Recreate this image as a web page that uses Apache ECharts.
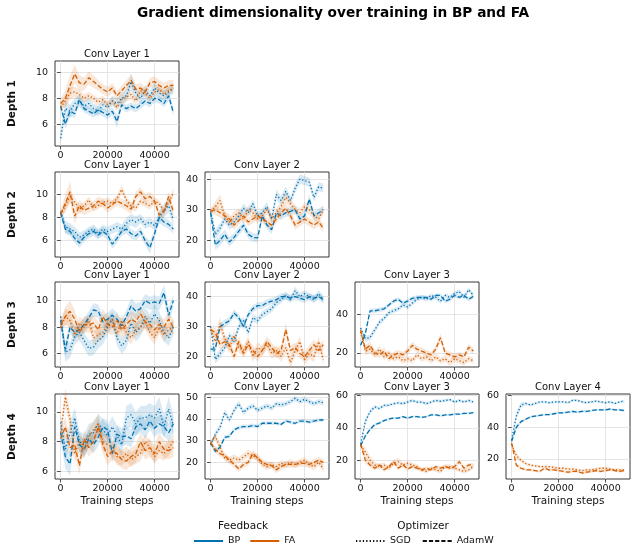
<!DOCTYPE html>
<html>
<head>
<meta charset="utf-8">
<script src="https://cdn.jsdelivr.net/npm/echarts@6/dist/echarts.min.js"></script>
<style>
  html, body { margin: 0; padding: 0; background: #fff; }
  #chart { width: 637px; height: 551px; }
</style>
</head>
<body>
<div id="chart"></div>
<script>
// training steps shared by every panel
const STEPS = [0, 2000, 4000, 6000, 8000, 10000, 12000, 14000, 16000, 18000, 20000, 22000, 24000,
  26000, 28000, 30000, 32000, 34000, 36000, 38000, 40000, 42000, 44000, 46000, 48000];

const X_TICKS = [0, 20000, 40000];
const TICKS_A = [6, 8, 10];
const TICKS_B = [20, 30, 40];
const TICKS_C = [20, 40];
const TICKS_D = [20, 30, 40, 50];
const TICKS_E = [20, 40, 60];

const FEEDBACK = ['BP', 'FA'];
const OPTIMIZERS = ['SGD', 'AdamW'];

// Depth 1 / Conv Layer 1
const D1L1_BP_SGD = [4.9,7.2,7.0,7.6,7.8,7.4,7.6,7.2,7.0,7.5,7.3,7.8,7.6,8.0,8.2,9.3,8.4,8.0,8.6,8.2,8.8,8.4,8.2,8.5,8.8];
const D1L1_BP_SGD_SD = [0.5,0.6,0.5,0.4,0.5,0.4,0.4,0.4,0.4,0.4,0.4,0.4,0.4,0.4,0.5,0.6,0.5,0.4,0.4,0.4,0.4,0.4,0.4,0.4,0.4];
const D1L1_BP_ADAM = [7.4,6.0,7.0,6.8,7.9,7.2,7.0,6.8,7.1,6.9,6.7,7.0,6.2,7.5,7.2,7.4,7.2,7.5,7.8,7.6,8.0,7.9,7.6,8.2,6.9];
const D1L1_BP_ADAM_SD = [0.3,0.4,0.4,0.3,0.3,0.3,0.3,0.3,0.3,0.3,0.3,0.3,0.5,0.3,0.3,0.3,0.3,0.3,0.3,0.3,0.3,0.3,0.3,0.4,0.3];
const D1L1_FA_SGD = [7.3,7.8,8.4,8.5,8.3,8.0,8.2,8.0,7.7,7.9,7.5,7.8,7.3,7.9,8.1,8.3,7.8,8.6,8.4,8.0,8.5,8.7,8.3,8.6,8.7];
const D1L1_FA_SGD_SD = [0.3,0.5,0.5,0.4,0.4,0.3,0.3,0.3,0.3,0.3,0.3,0.3,0.3,0.3,0.3,0.4,0.3,0.3,0.3,0.3,0.3,0.3,0.3,0.3,0.3];
const D1L1_FA_ADAM = [7.6,8.0,9.0,9.9,9.2,9.1,9.6,9.3,9.0,8.7,8.5,8.8,8.2,8.6,9.0,9.4,8.7,8.8,8.5,9.2,9.3,9.0,8.8,9.0,9.0];
const D1L1_FA_ADAM_SD = [0.4,0.6,0.8,0.7,0.6,0.5,0.5,0.5,0.4,0.4,0.4,0.4,0.4,0.4,0.4,0.5,0.4,0.4,0.4,0.4,0.4,0.4,0.4,0.4,0.4];

// Depth 2 / Conv Layer 1
const D2L1_BP_SGD = [8.5,7.2,7.0,6.8,6.3,6.5,6.8,7.0,6.6,7.0,6.8,7.0,7.2,7.0,7.5,7.8,7.6,7.9,7.4,7.6,7.3,8.0,8.6,9.0,7.8];
const D2L1_BP_SGD_SD = [0.3,0.5,0.5,0.4,0.4,0.4,0.4,0.4,0.4,0.4,0.4,0.4,0.4,0.4,0.5,0.5,0.5,0.4,0.4,0.4,0.4,0.5,0.6,0.6,0.5];
const D2L1_BP_ADAM = [8.4,7.0,6.8,6.2,5.8,6.3,6.6,6.8,6.5,6.8,6.5,5.7,6.2,6.8,7.0,6.6,6.4,6.8,6.0,5.4,6.6,8.0,7.6,7.4,7.0];
const D2L1_BP_ADAM_SD = [0.3,0.4,0.4,0.4,0.4,0.4,0.4,0.4,0.4,0.4,0.4,0.4,0.4,0.4,0.4,0.4,0.4,0.4,0.4,0.5,0.4,0.5,0.4,0.4,0.4];
const D2L1_FA_SGD = [8.2,9.0,9.8,9.3,8.7,9.0,9.5,8.8,9.0,9.3,9.4,9.2,9.6,10.4,9.5,9.0,8.8,9.4,9.2,9.0,9.4,9.2,8.5,9.3,10.1];
const D2L1_FA_SGD_SD = [0.3,0.4,0.5,0.4,0.4,0.3,0.3,0.3,0.3,0.3,0.3,0.3,0.3,0.4,0.3,0.3,0.3,0.3,0.3,0.3,0.3,0.3,0.3,0.3,0.4];
const D2L1_FA_ADAM = [8.3,9.2,10.2,8.1,9.0,8.6,8.8,9.0,9.4,9.2,8.8,9.1,9.4,9.2,9.0,8.7,9.8,10.2,9.6,9.8,9.4,8.2,8.5,9.8,8.5];
const D2L1_FA_ADAM_SD = [0.3,0.8,0.9,0.6,0.5,0.4,0.4,0.4,0.4,0.4,0.4,0.4,0.4,0.4,0.4,0.4,0.4,0.4,0.4,0.4,0.4,0.4,0.4,0.4,0.4];

// Depth 2 / Conv Layer 2
const D2L2_BP_SGD = [29.5,22,24,27,25,26,28,30.5,29,32,28,29,31,27,35,33,36,33,37,40,39.5,39,34,37.5,37];
const D2L2_BP_SGD_SD = [0.8,1.6,1.6,1.4,1.5,1.4,1.4,1.5,1.4,1.5,1.4,1.4,1.5,1.5,1.6,1.5,1.6,1.5,1.5,1.6,1.5,1.5,1.4,1.5,1.5];
const D2L2_BP_ADAM = [29,18.5,20,22,19.5,21,23,25,22,21,20.8,28,25,23.5,29,28,29,29.5,30,27,28,33.5,28,29,30];
const D2L2_BP_ADAM_SD = [0.8,1.5,1.8,1.6,1.5,1.4,1.4,1.4,1.4,1.4,1.4,1.4,1.4,1.4,1.4,1.4,1.4,1.4,1.4,1.4,1.4,1.5,1.4,1.4,1.4];
const D2L2_FA_SGD = [29.5,31,33,28,26,28,29,27,30,29,27,28,30,27,29,31,34,32,30,29,31,30,28,27,30];
const D2L2_FA_SGD_SD = [0.8,1.8,2.0,1.6,1.5,1.5,1.5,1.5,1.5,1.5,1.5,1.5,1.5,1.5,1.5,1.6,1.8,1.6,1.5,1.5,1.5,1.5,1.5,1.5,1.5];
const D2L2_FA_ADAM = [29.5,30,29,28,27,25,26.5,28,26,27,28,27,26,25,27,29,30.5,28,25,26,27,26,25,26,24];
const D2L2_FA_ADAM_SD = [0.8,1.6,1.6,1.5,1.5,1.5,1.4,1.4,1.4,1.4,1.4,1.4,1.4,1.4,1.4,1.5,1.6,1.5,1.4,1.4,1.4,1.4,1.4,1.4,1.4];

// Depth 3 / Conv Layer 1
const D3L1_BP_SGD = [8.8,6.1,6.3,7.3,7.6,7.0,6.4,6.5,7.0,7.3,8.0,8.6,7.2,6.6,7.0,8.3,7.6,8.0,8.8,8.3,9.0,8.5,7.6,7.2,8.0];
const D3L1_BP_SGD_SD = [0.4,0.7,0.6,0.6,0.6,0.6,0.6,0.6,0.6,0.6,0.6,0.6,0.6,0.6,0.6,0.7,0.7,0.7,0.7,0.7,0.7,0.7,0.7,0.6,0.6];
const D3L1_BP_ADAM = [8.5,6.3,8.0,7.6,7.8,8.2,8.7,9.3,9.2,8.4,8.6,8.9,8.6,8.1,8.8,9.6,9.2,9.4,10.0,9.8,9.9,9.8,10.6,8.9,10.0];
const D3L1_BP_ADAM_SD = [0.4,0.6,0.5,0.5,0.5,0.5,0.5,0.5,0.5,0.5,0.5,0.5,0.5,0.5,0.5,0.6,0.6,0.5,0.5,0.5,0.5,0.5,0.6,0.6,0.5];
const D3L1_FA_SGD = [8.0,8.8,8.5,7.4,8.3,8.0,8.5,7.2,7.4,7.6,8.2,8.6,7.5,8.5,7.6,7.2,7.8,8.0,8.4,7.6,7.2,8.0,7.4,7.8,8.0];
const D3L1_FA_SGD_SD = [0.4,0.6,0.6,0.5,0.5,0.5,0.5,0.5,0.5,0.5,0.5,0.5,0.5,0.5,0.5,0.5,0.5,0.5,0.5,0.5,0.5,0.5,0.5,0.5,0.5];
const D3L1_FA_ADAM = [8.2,8.8,9.2,8.6,7.6,8.2,8.2,8.3,7.8,8.8,8.2,8.0,8.5,7.8,8.2,8.6,8.4,9.0,8.4,8.2,7.8,8.2,8.0,8.6,8.0];
const D3L1_FA_ADAM_SD = [0.4,0.7,0.8,0.7,0.6,0.6,0.6,0.6,0.6,0.6,0.6,0.6,0.6,0.6,0.6,0.6,0.6,0.6,0.6,0.6,0.6,0.6,0.6,0.6,0.6];

// Depth 3 / Conv Layer 2
const D3L2_BP_SGD = [30,19,21,23,27,25,30,32,28,33,32,34,35,36,38,39,40.5,39,42,40,41,40,39,41,39];
const D3L2_BP_SGD_SD = [0.8,1.4,1.4,1.3,1.3,1.3,1.3,1.3,1.3,1.3,1.2,1.2,1.2,1.2,1.2,1.2,1.2,1.2,1.3,1.2,1.2,1.2,1.2,1.2,1.2];
const D3L2_BP_ADAM = [22.5,22.5,30,31,32,34.5,33,30,34,36,37,37,38,38.5,39,40,40,39.5,40,39.5,39,40,39.5,40,39];
const D3L2_BP_ADAM_SD = [0.8,1.4,1.3,1.3,1.2,1.2,1.2,1.2,1.2,1.2,1.1,1.1,1.1,1.1,1.1,1.1,1.1,1.1,1.1,1.1,1.1,1.1,1.1,1.1,1.1];
const D3L2_FA_SGD = [29,25,31,26,23,27,23,22,25,20,23,22,24,21,22,20,23,18,22,25,19,21,20,25,19];
const D3L2_FA_SGD_SD = [0.8,2.0,2.2,1.8,1.8,1.8,1.8,1.8,1.8,1.8,1.8,1.8,1.8,1.8,1.8,1.8,2.0,1.8,1.8,1.8,1.8,1.8,1.8,1.8,1.8];
const D3L2_FA_ADAM = [29,28,24,25,24,20,25,21,24,22,20,22,25,23,21,22,29,22,23,21,20,22,24,22,24];
const D3L2_FA_ADAM_SD = [0.8,1.8,1.8,1.7,1.7,1.7,1.7,1.7,1.7,1.7,1.7,1.7,1.7,1.7,1.7,1.8,2.2,1.7,1.7,1.7,1.7,1.7,1.7,1.7,1.7];

// Depth 3 / Conv Layer 3
const D3L3_BP_SGD = [33,27.5,28,32,36,38,41,42,43,45,44,46,48,49,48,50,49,47,50,49,51,52,49,53,50];
const D3L3_BP_SGD_SD = [1.0,1.6,1.5,1.4,1.4,1.3,1.3,1.3,1.2,1.2,1.2,1.2,1.2,1.2,1.2,1.2,1.2,1.2,1.2,1.2,1.2,1.2,1.2,1.2,1.2];
const D3L3_BP_ADAM = [24,30,42,42,42.5,43,45,47,48,46,47,48.5,49,49,49,48,50,50,47,48,50,49,50,48,49.5];
const D3L3_BP_ADAM_SD = [1.0,1.5,1.3,1.2,1.2,1.2,1.1,1.1,1.1,1.1,1.1,1.1,1.1,1.1,1.1,1.1,1.1,1.1,1.1,1.1,1.1,1.1,1.1,1.1,1.1];
const D3L3_FA_SGD = [31,21,22,19,22,18,20,17,18,16,17,16,19,17,18,16,18,16,17,15,17,16,15,17,16];
const D3L3_FA_SGD_SD = [1.0,2.2,2.0,1.8,1.8,1.7,1.7,1.6,1.6,1.6,1.6,1.6,1.6,1.6,1.6,1.6,1.6,1.6,1.6,1.6,1.6,1.6,1.6,1.6,1.6];
const D3L3_FA_ADAM = [32,22,24,20,19,21,17,19,20,19,21,24,22,21,20,19,22,28,20,19,18,19,18,23,21];
const D3L3_FA_ADAM_SD = [1.0,2.2,2.0,1.8,1.8,1.8,1.7,1.7,1.7,1.7,1.8,1.9,1.8,1.7,1.7,1.7,1.8,2.2,1.7,1.7,1.7,1.7,1.7,1.8,1.7];

// Depth 4 / Conv Layer 1
const D4L1_BP_SGD = [9.3,7.5,8.6,9.6,8.0,7.8,8.5,8.6,9.2,8.8,8.4,9.0,8.4,7.8,9.6,9.8,9.2,9.6,9.6,9.8,9.6,10.2,9.0,10.2,9.1];
const D4L1_BP_SGD_SD = [0.5,0.8,0.7,0.7,0.7,0.7,0.7,0.7,0.7,0.7,0.7,0.7,0.7,0.7,0.8,0.8,0.8,0.8,0.8,0.8,0.8,0.8,0.8,0.8,0.7];
const D4L1_BP_ADAM = [8.6,7.0,6.5,9.0,7.8,7.5,8.2,7.8,8.3,9.0,8.8,7.2,8.5,8.3,8.4,8.2,9.0,9.2,8.8,9.4,8.9,9.2,9.0,8.6,9.2];
const D4L1_BP_ADAM_SD = [0.5,0.8,0.8,0.7,0.6,0.6,0.6,0.6,0.6,0.6,0.6,0.6,0.6,0.6,0.6,0.6,0.6,0.6,0.6,0.6,0.6,0.6,0.6,0.6,0.6];
const D4L1_FA_SGD = [8.6,11.0,9.5,7.2,8.0,7.5,8.3,8.8,9.2,8.0,7.8,7.6,7.0,6.9,7.2,6.8,7.0,7.2,8.0,7.6,7.0,7.4,7.2,7.6,8.0];
const D4L1_FA_SGD_SD = [0.4,0.6,0.6,0.6,0.6,0.6,0.6,0.6,0.6,0.6,0.6,0.6,0.6,0.5,0.5,0.5,0.5,0.5,0.5,0.5,0.5,0.5,0.5,0.5,0.5];
const D4L1_FA_ADAM = [8.2,9.0,7.6,7.8,6.4,8.2,7.6,8.0,9.0,7.8,7.0,7.4,7.2,6.8,6.7,7.0,7.2,8.0,7.4,7.6,7.2,8.0,7.5,7.4,7.6];
const D4L1_FA_ADAM_SD = [0.4,0.7,0.6,0.6,0.6,0.6,0.6,0.6,0.6,0.6,0.6,0.6,0.6,0.6,0.6,0.6,0.6,0.6,0.6,0.6,0.6,0.6,0.6,0.6,0.6];

// Depth 4 / Conv Layer 2
const D4L2_BP_SGD = [28,33,36,43,39.5,44,47,43,45,46,44,45,46,45,47,46.5,47,48,49.5,48,49,48,47,48,47.5];
const D4L2_BP_SGD_SD = [0.8,1.4,1.4,1.4,1.3,1.4,1.4,1.3,1.2,1.2,1.2,1.2,1.2,1.2,1.2,1.2,1.2,1.2,1.2,1.2,1.2,1.2,1.2,1.2,1.2];
const D4L2_BP_ADAM = [29,25,27,31.5,32,35,36,36.5,36.5,37,36.5,38,38,38,38,37.5,39,38.5,38,39,39,38.5,39,39.5,39.5];
const D4L2_BP_ADAM_SD = [0.8,1.0,1.0,1.0,0.9,0.9,0.9,0.9,0.9,0.9,0.8,0.8,0.8,0.8,0.8,0.8,0.8,0.8,0.8,0.8,0.8,0.8,0.8,0.8,0.8];
const D4L2_FA_SGD = [29,32,27,22,21,22,21,22.5,24,23,22,19,18,19,18,19.5,19,20,19,20,21,19,18,20,17];
const D4L2_FA_SGD_SD = [0.8,1.8,1.8,1.6,1.6,1.6,1.6,1.6,1.8,1.6,1.6,1.5,1.5,1.5,1.5,1.5,1.5,1.5,1.5,1.5,1.5,1.5,1.5,1.5,1.5];
const D4L2_FA_ADAM = [29,26,24,23,21,19,17,19,20,24,22,20,19,18.5,16.5,18,19,19,19,19.5,19.5,19,20,21,20];
const D4L2_FA_ADAM_SD = [0.8,1.6,1.6,1.5,1.5,1.5,1.5,1.5,1.5,1.7,1.6,1.5,1.5,1.5,1.5,1.5,1.5,1.5,1.5,1.5,1.5,1.5,1.5,1.5,1.5];

// Depth 4 / Conv Layer 3
const D4L3_BP_SGD = [30,44,50,53,52,54,54,55,55.5,55,56,57,56,56,55,56,57,56.5,57,57.5,56,57,56,57,56];
const D4L3_BP_SGD_SD = [1.0,2.0,1.5,1.2,1.0,1.0,0.9,0.9,0.9,0.9,0.9,0.9,0.9,0.9,0.9,0.9,0.9,0.9,0.9,0.9,0.9,0.9,0.9,0.9,0.9];
const D4L3_BP_ADAM = [29,35,39,42,43,44.5,45.5,46,46,47,46,47,47,46.5,47,48,48,47.5,48,48,48.5,48.5,49,49,49.5];
const D4L3_BP_ADAM_SD = [1.0,1.2,1.0,0.8,0.8,0.7,0.7,0.7,0.7,0.7,0.7,0.7,0.7,0.7,0.7,0.7,0.7,0.7,0.7,0.7,0.7,0.7,0.7,0.7,0.7];
const D4L3_FA_SGD = [29,25,20,17,16,17,15,18,19,17,18,17,16,14,13,15,14,13,16,16,15,14,13,14,16];
const D4L3_FA_SGD_SD = [1.0,3.0,2.6,2.0,1.6,1.6,1.5,1.8,2.4,1.6,1.5,1.4,1.4,1.3,1.3,1.3,1.3,1.3,1.4,1.4,1.3,1.3,1.3,1.3,1.4];
const D4L3_FA_ADAM = [30,20,17,15,17,14,16,19,15,17,14.5,16,15,14,15,14,16,15,16,15,16,19,15,17,17];
const D4L3_FA_ADAM_SD = [1.0,2.2,1.6,1.4,1.4,1.3,1.3,1.5,1.3,1.3,1.2,1.2,1.2,1.2,1.2,1.2,1.2,1.2,1.2,1.2,1.2,1.5,1.2,1.2,1.2];

// Depth 4 / Conv Layer 4
const D4L4_BP_SGD = [32,47,54,55,54,55,56,56,55.5,56,56,56,55.5,57,57,56,55.5,56,56.5,56,55.5,56,55,56,56.5];
const D4L4_BP_SGD_SD = [1.0,2.4,1.6,1.0,0.9,0.8,0.8,0.8,0.8,0.8,0.8,0.8,0.8,0.8,0.8,0.8,0.8,0.8,0.8,0.8,0.8,0.8,0.8,0.8,0.8];
const D4L4_BP_ADAM = [31,40,43.5,45,46.5,47,47.5,48,48,48.5,49,49,49.5,50,49.5,50,50,50.5,51,51,51,51.5,51,51,50.5];
const D4L4_BP_ADAM_SD = [1.0,1.4,1.0,0.8,0.7,0.7,0.7,0.7,0.7,0.7,0.7,0.7,0.7,0.7,0.7,0.7,0.7,0.7,0.7,0.7,0.7,0.7,0.7,0.7,0.7];
const D4L4_FA_SGD = [29,22,19,17,16,15.5,15,15,15,14.5,14,14,13.5,13.5,13,12.5,13,13,13.5,14,14,13.5,13,13,13];
const D4L4_FA_SGD_SD = [1.0,1.6,1.2,1.0,0.9,0.9,0.9,0.9,0.9,0.9,0.9,0.9,0.9,0.9,0.9,0.9,0.9,0.9,0.9,0.9,0.9,0.9,0.9,0.9,0.9];
const D4L4_FA_ADAM = [30,16,14,13,13,12.5,12,14,13,13,12.5,12,11.5,12,12,11,11.5,12,12.5,12,12.5,13,12.5,12,12.5];
const D4L4_FA_ADAM_SD = [1.0,1.2,1.0,0.8,0.8,0.8,0.8,0.8,0.8,0.8,0.8,0.8,0.8,0.8,0.8,0.8,0.8,0.8,0.8,0.8,0.8,0.8,0.8,0.8,0.8];

const BP_COLOR = '#0072b2';
const FA_COLOR = '#d55e00';
const DOTTED = [1.3, 2.1];
const DASHED = [4.6, 2.2];
const FONT = 'DejaVu Sans';

// order of lines in each panel: BP SGD, BP AdamW, FA SGD, FA AdamW
const LINE_STYLE = [
  { color: BP_COLOR, dash: DOTTED },
  { color: BP_COLOR, dash: DASHED },
  { color: FA_COLOR, dash: DOTTED },
  { color: FA_COLOR, dash: DASHED },
];

const COL_LEFT = [55, 205, 355, 506];
const ROW_TOP = [61, 172, 282, 394];
const PW = 124;
const PH = 85;

const panels = [
  { row: 0, col: 0, y: [4.3, 10.9], ticks: TICKS_A,
    lines: [[D1L1_BP_SGD, D1L1_BP_SGD_SD], [D1L1_BP_ADAM, D1L1_BP_ADAM_SD], [D1L1_FA_SGD, D1L1_FA_SGD_SD], [D1L1_FA_ADAM, D1L1_FA_ADAM_SD]] },
  { row: 1, col: 0, y: [4.6, 11.9], ticks: TICKS_A,
    lines: [[D2L1_BP_SGD, D2L1_BP_SGD_SD], [D2L1_BP_ADAM, D2L1_BP_ADAM_SD], [D2L1_FA_SGD, D2L1_FA_SGD_SD], [D2L1_FA_ADAM, D2L1_FA_ADAM_SD]] },
  { row: 1, col: 1, y: [14.6, 42.3], ticks: TICKS_B,
    lines: [[D2L2_BP_SGD, D2L2_BP_SGD_SD], [D2L2_BP_ADAM, D2L2_BP_ADAM_SD], [D2L2_FA_SGD, D2L2_FA_SGD_SD], [D2L2_FA_ADAM, D2L2_FA_ADAM_SD]] },
  { row: 2, col: 0, y: [5.0, 11.4], ticks: TICKS_A,
    lines: [[D3L1_BP_SGD, D3L1_BP_SGD_SD], [D3L1_BP_ADAM, D3L1_BP_ADAM_SD], [D3L1_FA_SGD, D3L1_FA_SGD_SD], [D3L1_FA_ADAM, D3L1_FA_ADAM_SD]] },
  { row: 2, col: 1, y: [16.5, 44.9], ticks: TICKS_B,
    lines: [[D3L2_BP_SGD, D3L2_BP_SGD_SD], [D3L2_BP_ADAM, D3L2_BP_ADAM_SD], [D3L2_FA_SGD, D3L2_FA_SGD_SD], [D3L2_FA_ADAM, D3L2_FA_ADAM_SD]] },
  { row: 2, col: 2, y: [12.7, 57], ticks: TICKS_C,
    lines: [[D3L3_BP_SGD, D3L3_BP_SGD_SD], [D3L3_BP_ADAM, D3L3_BP_ADAM_SD], [D3L3_FA_SGD, D3L3_FA_SGD_SD], [D3L3_FA_ADAM, D3L3_FA_ADAM_SD]] },
  { row: 3, col: 0, y: [5.5, 11.2], ticks: TICKS_A,
    lines: [[D4L1_BP_SGD, D4L1_BP_SGD_SD], [D4L1_BP_ADAM, D4L1_BP_ADAM_SD], [D4L1_FA_SGD, D4L1_FA_SGD_SD], [D4L1_FA_ADAM, D4L1_FA_ADAM_SD]] },
  { row: 3, col: 1, y: [12.3, 51.5], ticks: TICKS_D,
    lines: [[D4L2_BP_SGD, D4L2_BP_SGD_SD], [D4L2_BP_ADAM, D4L2_BP_ADAM_SD], [D4L2_FA_SGD, D4L2_FA_SGD_SD], [D4L2_FA_ADAM, D4L2_FA_ADAM_SD]] },
  { row: 3, col: 2, y: [8.3, 61], ticks: TICKS_E,
    lines: [[D4L3_BP_SGD, D4L3_BP_SGD_SD], [D4L3_BP_ADAM, D4L3_BP_ADAM_SD], [D4L3_FA_SGD, D4L3_FA_SGD_SD], [D4L3_FA_ADAM, D4L3_FA_ADAM_SD]] },
  { row: 3, col: 3, y: [7.2, 61], ticks: TICKS_E,
    lines: [[D4L4_BP_SGD, D4L4_BP_SGD_SD], [D4L4_BP_ADAM, D4L4_BP_ADAM_SD], [D4L4_FA_SGD, D4L4_FA_SGD_SD], [D4L4_FA_ADAM, D4L4_FA_ADAM_SD]] },
];

const chart = echarts.init(document.getElementById('chart'), null, { renderer: 'canvas' });

const grids = [];
const xAxes = [];
const yAxes = [];
const series = [];
const graphics = [];

const tickLabel = { color: '#111', fontSize: 9.5, fontFamily: FONT, formatter: (v) => String(v) };

// one polygon per band: drawn when the first item is rendered, using every point of the series
function renderBand(color) {
  return function (params, api) {
    if (params.dataIndexInside !== 0) return null;
    const n = params.dataInsideLength;
    const upper = [];
    const lower = [];
    for (let j = 0; j < n; j++) {
      const x = api.value(0, j);
      lower.push(api.coord([x, api.value(1, j)]));
      upper.push(api.coord([x, api.value(2, j)]));
    }
    return {
      type: 'polygon',
      shape: { points: lower.concat(upper.reverse()) },
      style: { fill: color, opacity: 0.15 },
      silent: true,
    };
  };
}

panels.forEach((p, i) => {
  const left = COL_LEFT[p.col];
  const top = ROW_TOP[p.row];
  grids.push({
    left, top, width: PW, height: PH,
    show: true, borderColor: '#222', borderWidth: 0.9, backgroundColor: 'transparent',
    containLabel: false, outerBoundsMode: 'none',
  });
  xAxes.push({
    type: 'value', gridIndex: i, min: -2400, max: 50400,
    axisLine: { show: false },
    axisTick: { show: true, length: 3.5, lineStyle: { color: '#222', width: 0.8 }, customValues: X_TICKS },
    axisLabel: { ...tickLabel, margin: 5, customValues: X_TICKS },
    splitLine: { show: true, lineStyle: { color: '#dedede', width: 0.8 } },
    name: p.row === 3 ? 'Training steps' : '',
    nameLocation: 'middle', nameGap: 17,
    nameTextStyle: { color: '#111', fontSize: 10.5, fontFamily: FONT },
  });
  yAxes.push({
    type: 'value', gridIndex: i, min: p.y[0], max: p.y[1],
    axisLine: { show: false },
    axisTick: { show: true, length: 3.5, lineStyle: { color: '#222', width: 0.8 }, customValues: p.ticks },
    axisLabel: { ...tickLabel, margin: 7, customValues: p.ticks },
    splitLine: { show: true, lineStyle: { color: '#dedede', width: 0.8 } },
    name: p.col === 0 ? 'Depth ' + (p.row + 1) : '',
    nameLocation: 'middle', nameRotate: 90, nameGap: 37,
    nameTextStyle: { color: '#111', fontSize: 10.5, fontWeight: 'bold', fontFamily: FONT },
  });

  // shaded bands (mean +/- sd) first, then the mean lines on top
  p.lines.forEach(([mean, sd], k) => {
    const st = LINE_STYLE[k];
    series.push({
      type: 'custom', xAxisIndex: i, yAxisIndex: i, silent: true, z: 1,
      encode: { x: 0, y: [1, 2] },
      renderItem: renderBand(st.color),
      data: STEPS.map((x, j) => [x, mean[j] - sd[j], mean[j] + sd[j]]),
    });
  });
  p.lines.forEach(([mean], k) => {
    const st = LINE_STYLE[k];
    series.push({
      type: 'line', xAxisIndex: i, yAxisIndex: i, silent: true,
      symbol: 'none', z: 3, color: st.color,
      lineStyle: { color: st.color, width: 1.3, type: st.dash },
      data: STEPS.map((x, j) => [x, mean[j]]),
    });
  });

  graphics.push({
    type: 'text', x: left + PW / 2, y: top - 7,
    style: { text: 'Conv Layer ' + (p.col + 1), align: 'center', verticalAlign: 'middle',
      fill: '#111', font: '10px "DejaVu Sans"' },
  });
});

// legend-only series (no data)
series.push({ name: FEEDBACK[0], type: 'line', data: [], symbol: 'none', color: BP_COLOR, lineStyle: { color: BP_COLOR, width: 1.8 } });
series.push({ name: FEEDBACK[1], type: 'line', data: [], symbol: 'none', color: FA_COLOR, lineStyle: { color: FA_COLOR, width: 1.8 } });
series.push({ name: OPTIMIZERS[0], type: 'line', data: [], symbol: 'none', color: '#111', lineStyle: { color: '#111', width: 1.5, type: DOTTED } });
series.push({ name: OPTIMIZERS[1], type: 'line', data: [], symbol: 'none', color: '#111', lineStyle: { color: '#111', width: 1.5, type: [4.2, 2] } });

graphics.push({
  type: 'text', x: 333, y: 13,
  style: { text: 'Gradient dimensionality over training in BP and FA', align: 'center', verticalAlign: 'middle',
    fill: '#000', font: 'bold 13.7px "DejaVu Sans"' },
});
graphics.push({
  type: 'text', x: 243, y: 526,
  style: { text: 'Feedback', align: 'center', verticalAlign: 'middle', fill: '#111', font: '10.5px "DejaVu Sans"' },
});
graphics.push({
  type: 'text', x: 423, y: 526,
  style: { text: 'Optimizer', align: 'center', verticalAlign: 'middle', fill: '#111', font: '10.5px "DejaVu Sans"' },
});

const legendText = { color: '#111', fontSize: 9.5, fontFamily: FONT };

chart.setOption({
  animation: false,
  backgroundColor: '#fff',
  textStyle: { fontFamily: FONT },
  grid: grids,
  xAxis: xAxes,
  yAxis: yAxes,
  legend: [
    { data: FEEDBACK, left: 193, top: 536, itemWidth: 29, itemHeight: 12, itemGap: 9,
      selectedMode: false, textStyle: legendText, padding: 0, itemStyle: { opacity: 0 } },
    { data: OPTIMIZERS, left: 355, top: 536, itemWidth: 29, itemHeight: 12, itemGap: 11,
      selectedMode: false, textStyle: legendText, padding: 0, itemStyle: { opacity: 0 } },
  ],
  graphic: graphics,
  series,
});
</script>
</body>
</html>
